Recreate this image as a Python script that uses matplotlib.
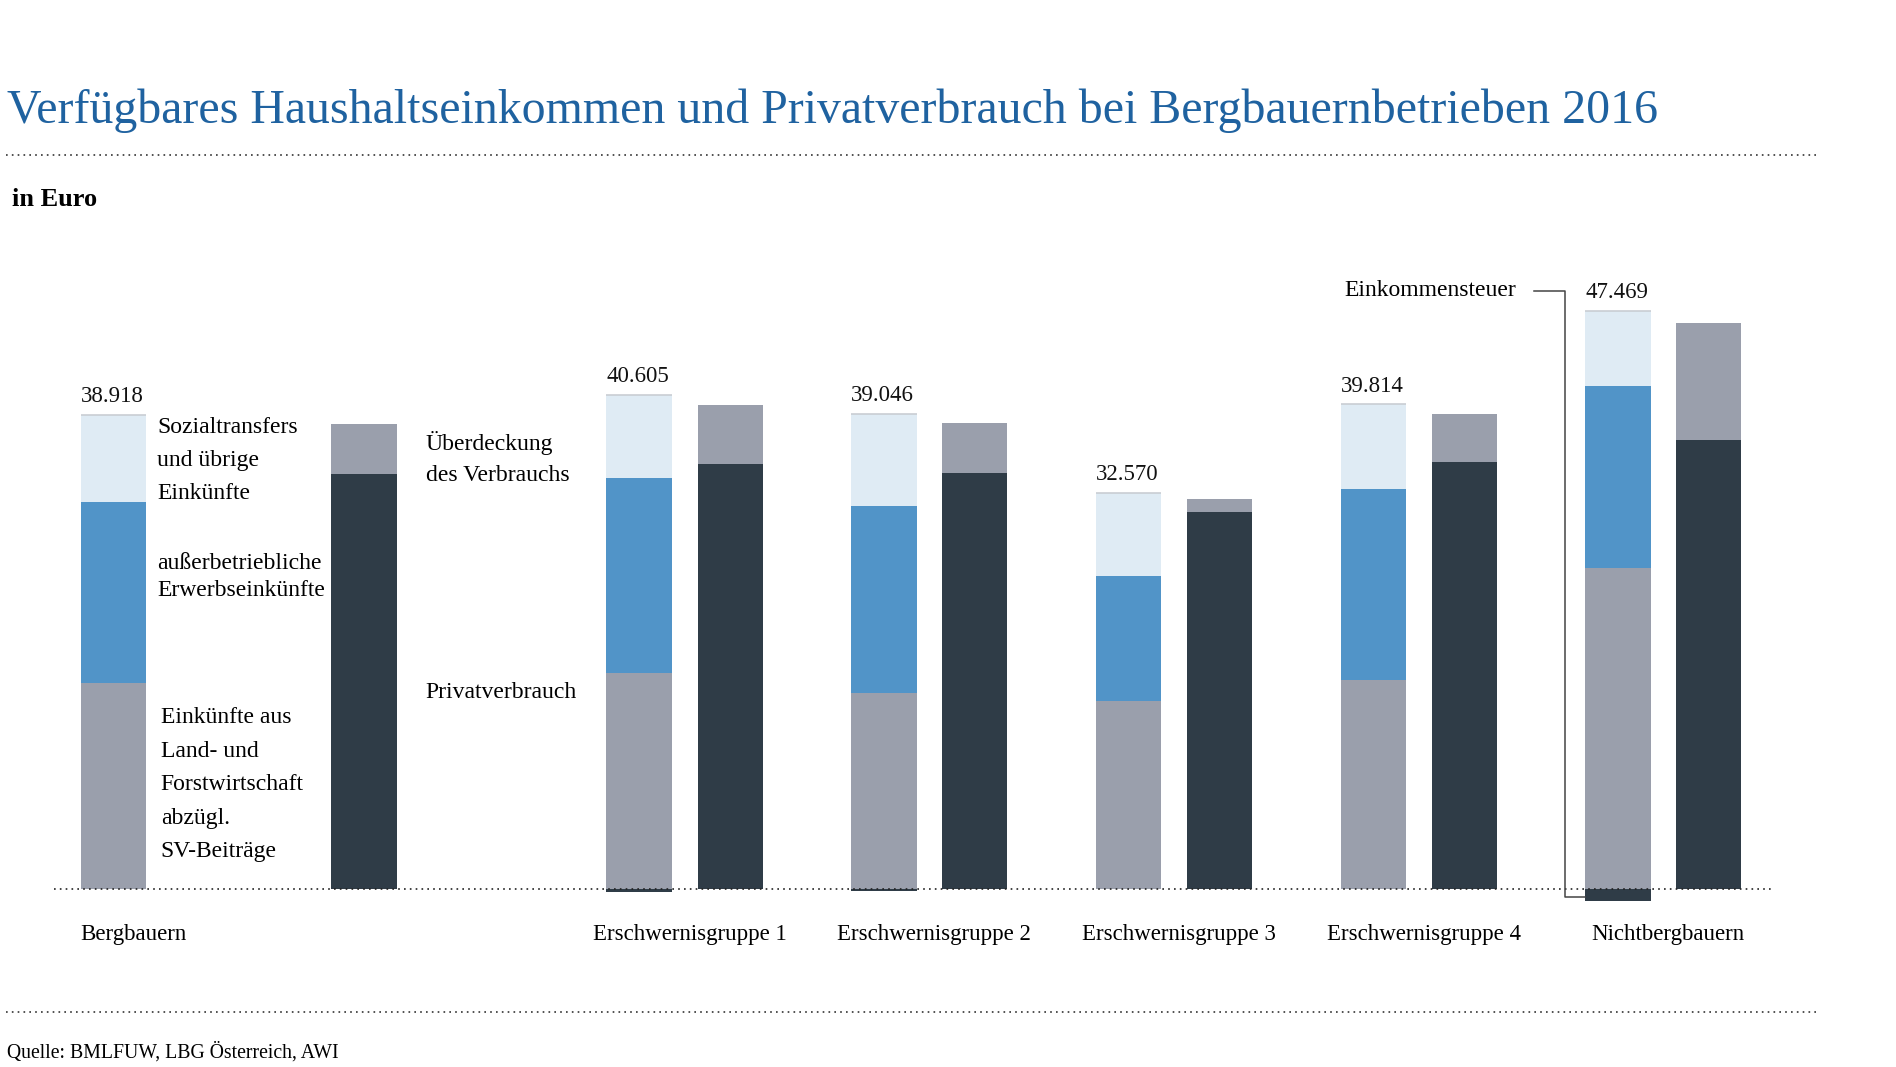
import matplotlib.pyplot as plt
from matplotlib.lines import Line2D

# Werte in Euro
kategorien = ["Bergbauern", "Erschwernisgruppe 1", "Erschwernisgruppe 2",
              "Erschwernisgruppe 3", "Erschwernisgruppe 4", "Nichtbergbauern"]
gesamt = [38918, 40605, 39046, 32570, 39814, 47469]
lf_einkuenfte = [16900, 17700, 16100, 15400, 17200, 26400]
ausserbetrieblich = [14900, 16100, 15400, 10300, 15700, 14900]
einkommensteuer = [0, 300, 200, 0, 0, 1000]
privatverbrauch = [34100, 34900, 34200, 31000, 35100, 36900]
ueberdeckung = [4100, 4900, 4100, 1000, 3900, 9600]

sozialtransfers = [g - a - b for g, a, b in zip(gesamt, lf_einkuenfte, ausserbetrieblich)]

# Layout (x in Bildpunkten der verkleinerten Vorlage)
x_einkommen = [94, 528.5, 731, 933.5, 1136, 1338]
x_verbrauch = [301, 604, 806, 1008.5, 1211, 1413]
breite = 54

c_hell = "#dfebf4"
c_blau = "#5194c8"
c_grau = "#9a9fac"
c_dunkel = "#2f3c47"
c_titel = "#1f62a0"

plt.rcParams["font.family"] = ["Liberation Serif", "DejaVu Serif"]

fig = plt.figure(figsize=(18.96, 10.67), dpi=100)
W, H = 1568.0, 882.4


def fx(x):
    return x / W


def fy(y):
    return 1 - y / H


ax = fig.add_axes([fx(45), fy(755.1), fx(1465) - fx(45), (755.1 - 232) / H])
ax.set_xlim(45, 1465)
ax.set_ylim(-2000, 50000)
ax.axis("off")

ax.bar(x_einkommen, lf_einkuenfte, breite, color=c_grau, zorder=2)
ax.bar(x_einkommen, ausserbetrieblich, breite, bottom=lf_einkuenfte, color=c_blau, zorder=2)
unten = [a + b for a, b in zip(lf_einkuenfte, ausserbetrieblich)]
ax.bar(x_einkommen, sozialtransfers, breite, bottom=unten, color=c_hell, zorder=2)
ax.bar(x_einkommen, [-t for t in einkommensteuer], breite, color=c_dunkel, zorder=2)
ax.hlines(gesamt, [x - breite / 2 for x in x_einkommen], [x + breite / 2 for x in x_einkommen],
          color="#c9cdd3", linewidth=1.2, zorder=3)

ax.bar(x_verbrauch, privatverbrauch, breite, color=c_dunkel, zorder=2)
ax.bar(x_verbrauch, ueberdeckung, breite, bottom=privatverbrauch, color=c_grau, zorder=2)

ax.axhline(0, color="#222222", linewidth=1.2, linestyle=(0, (1, 2.5)), zorder=3)

for x, g in zip(x_einkommen, gesamt):
    ax.text(x - breite / 2, g + 650, f"{g:,}".replace(",", "."), fontsize=16.5,
            ha="left", va="bottom", color="#111111")

for i, name in enumerate(kategorien):
    if i == 0:
        fig.text(fx(66), fy(773), name, fontsize=16.5, ha="left", va="center")
    else:
        mitte = (x_einkommen[i] + x_verbrauch[i]) / 2 + 4
        fig.text(fx(mitte), fy(773), name, fontsize=16.5, ha="center", va="center")

# Erlaeuterungen neben der ersten Gruppe
fig.text(fx(130), fy(381), "Sozialtransfers\nund übrige\nEinkünfte", fontsize=17,
         ha="left", va="center", linespacing=1.75)
fig.text(fx(130), fy(477), "außerbetriebliche\nErwerbseinkünfte", fontsize=17,
         ha="left", va="center", linespacing=1.4)
fig.text(fx(133), fy(649), "Einkünfte aus\nLand- und\nForstwirtschaft\nabzügl.\nSV-Beiträge",
         fontsize=17, ha="left", va="center", linespacing=1.78)
fig.text(fx(352), fy(379), "Überdeckung\ndes Verbrauchs", fontsize=17,
         ha="left", va="center", linespacing=1.65)
fig.text(fx(352), fy(573), "Privatverbrauch", fontsize=17, ha="left", va="center")

# Einkommensteuer-Klammer
fig.text(fx(1254), fy(240), "Einkommensteuer", fontsize=17, ha="right", va="center")
fig.add_artist(Line2D([fx(1269), fx(1294), fx(1294), fx(1311)],
                      [fy(241), fy(241), fy(742), fy(742)],
                      color="#444444", linewidth=1.1))

# Titel, Linien, Quelle
fig.text(fx(6), fy(92), "Verfügbares Haushaltseinkommen und Privatverbrauch bei Bergbauernbetrieben 2016",
         fontsize=34.5, color=c_titel, ha="left", va="center")
for y in (128, 837):
    fig.add_artist(Line2D([fx(5), fx(1505)], [fy(y), fy(y)], color="#333333",
                          linewidth=1.2, linestyle=(0, (1, 2.5))))
fig.text(fx(10), fy(165), "in Euro", fontsize=19, fontweight="bold", ha="left", va="center")
fig.text(fx(6), fy(870), "Quelle: BMLFUW, LBG Österreich, AWI", fontsize=14.2,
         ha="left", va="center")

fig.savefig("out.png", dpi=100)
